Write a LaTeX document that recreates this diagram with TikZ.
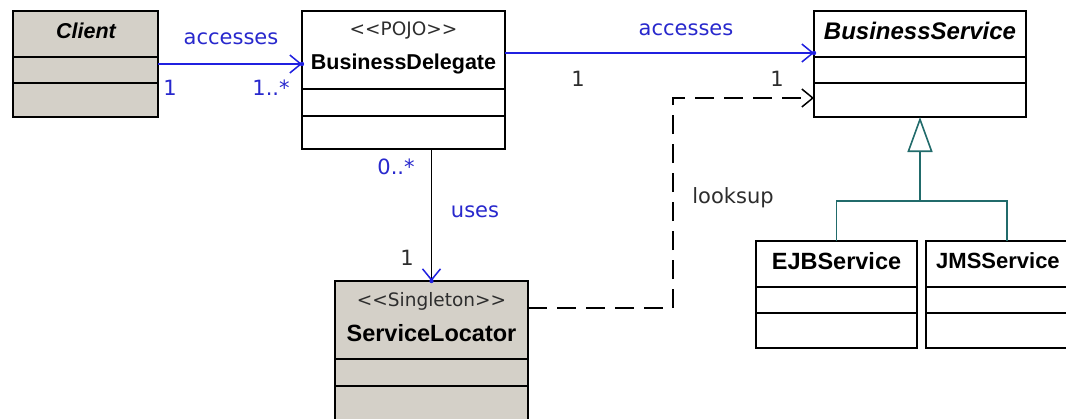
\documentclass[tikz,border=0pt]{standalone}
\usepackage{fontspec}
\setmainfont{Liberation Sans}
\newfontfamily\labfont{DejaVu Sans}
\usetikzlibrary{arrows.meta}
\definecolor{umlgray}{RGB}{212,208,200}
\definecolor{umlblue}{RGB}{32,32,224}
\definecolor{labblue}{RGB}{40,40,205}
\definecolor{umlteal}{RGB}{33,107,107}
\definecolor{labgray}{RGB}{45,45,45}
\begin{document}
\begin{tikzpicture}[x=1pt,y=-1pt,
  box/.style={draw=black, line width=1.8pt, rectangle, inner sep=0pt, outer sep=0pt, anchor=north west},
  part/.style={draw=black, line width=1.8pt, rectangle, inner sep=0pt, outer sep=0pt, anchor=north},
  cname/.style={font=\fontsize{#1}{24}\selectfont\bfseries, inner sep=0pt},
  cname/.default=22,
  iname/.style={font=\fontsize{#1}{24}\selectfont\bfseries\itshape, inner sep=0pt},
  stereo/.style={font=\labfont\fontsize{18.5}{20}\selectfont, inner sep=0pt, text=labgray},
  lab/.style={font=\labfont\fontsize{21}{24}\selectfont, inner sep=0pt},
  blab/.style={lab, text=labblue},
  glab/.style={lab, text=labgray},
  barb/.style={-{Straight Barb[length=11pt,width=18pt,line width=1.5pt]}},
  bluebarb/.style={-{Straight Barb[length=11pt,width=18pt,line width=1.5pt,color=umlblue]}},
  gen/.style={draw=umlteal, line width=1.6pt},
]
\useasboundingbox (0,0) rectangle (1066,418);
\clip (0,0) rectangle (1066,418);
\fill[white] (0,0) rectangle (1066,418);

% Client
\node[box, fill=umlgray, minimum width=145pt, minimum height=46pt] (clH) at (13,11) {};
\node[part, fill=umlgray, minimum width=145pt, minimum height=26pt] (clA) at (clH.south) {};
\node[part, fill=umlgray, minimum width=145pt, minimum height=34pt] (clO) at (clA.south) {};
\node[iname=21.5] (clN) at (86,31) {Client};

% BusinessDelegate
\node[box, minimum width=203pt, minimum height=78pt] (bdH) at (302,11) {};
\node[part, minimum width=203pt, minimum height=27pt] (bdA) at (bdH.south) {};
\node[part, minimum width=203pt, minimum height=33pt] (bdO) at (bdA.south) {};
\node[stereo] (bdS) at (403.5,30) {<\kern0pt<POJO>\kern0pt>};
\node[cname=21.5] (bdN) at (403.5,64) {BusinessDelegate};

% BusinessService
\node[box, minimum width=212pt, minimum height=46pt] (bsH) at (814,11) {};
\node[part, minimum width=212pt, minimum height=26pt] (bsA) at (bsH.south) {};
\node[part, minimum width=212pt, minimum height=34pt] (bsO) at (bsA.south) {};
\node[iname=24] (bsN) at (920,31) {BusinessService};

% ServiceLocator
\node[box, fill=umlgray, minimum width=193pt, minimum height=78pt] (slH) at (335,281) {};
\node[part, fill=umlgray, minimum width=193pt, minimum height=27pt] (slA) at (slH.south) {};
\node[part, fill=umlgray, minimum width=193pt, minimum height=40pt] (slO) at (slA.south) {};
\node[stereo] (slS) at (431.5,301) {<\kern0pt<Singleton>\kern0pt>};
\node[cname=23.5] (slN) at (431.5,333) {ServiceLocator};

% EJBService
\node[box, minimum width=161pt, minimum height=46pt] (ejH) at (756,241) {};
\node[part, minimum width=161pt, minimum height=26pt] (ejA) at (ejH.south) {};
\node[part, minimum width=161pt, minimum height=35pt] (ejO) at (ejA.south) {};
\node[cname=23.5] (ejN) at (836.5,261) {EJBService};

% JMSService
\node[box, minimum width=162pt, minimum height=46pt] (jmH) at (926,241) {};
\node[part, minimum width=162pt, minimum height=26pt] (jmA) at (jmH.south) {};
\node[part, minimum width=162pt, minimum height=35pt] (jmO) at (jmA.south) {};
\node[cname=22, anchor=west] (jmN) at (936,261) {JMSService};

% Client -> BusinessDelegate
\draw[umlblue, line width=1.5pt, bluebarb] (clA.east |- bdN) -- (bdH.west |- bdN);
\fill[umlblue] (bdH.west |- bdN) circle (2.2pt);
\node[blab] (l1) at (231,39) {accesses};
\node[blab] (m1) at (170,88) {1};
\node[blab] (m2) at (271,88) {1..*};

% BusinessDelegate -> BusinessService
\path ([yshift=-3pt]bdH.east) coordinate (bdR);
\draw[umlblue, line width=1.5pt, bluebarb] (bdR) -- (bdR -| bsH.west);
\fill[umlblue] (bdR -| bsH.west) circle (2.2pt);
\node[blab] (l2) at (686,30) {accesses};
\node[glab] (m3) at (578,79) {1};
\node[glab] (m4) at (777,79) {1};

% BusinessDelegate -> ServiceLocator
\draw[black, line width=1.6pt, bluebarb] (slH.north |- bdO.south) -- (slH.north);
\fill[umlblue] (slH.north) circle (2.2pt);
\node[blab] (m5) at (396,167) {0..*};
\node[blab] (l3) at (475,212) {uses};
\node[glab] (m6) at (407,258) {1};

% ServiceLocator looks up BusinessService
\draw[black, line width=1.5pt, dash pattern=on 19pt off 10pt, barb]
  ([yshift=12pt]slH.east) -- ++(145pt,0) |- ([yshift=2pt]bsO.west);
\node[glab] (l4) at (733,198) {looksup};

% Generalization
\path ([yshift=40pt]ejH.north) coordinate (bar);
\draw[gen] (ejH.north) -- (bar) -| (jmH.north);
\draw[gen, -{Triangle[open, length=35pt, width=25pt, line width=1.6pt, fill=white]}] (bar -| bsO.south) -- (bsO.south);
\end{tikzpicture}
\end{document}
